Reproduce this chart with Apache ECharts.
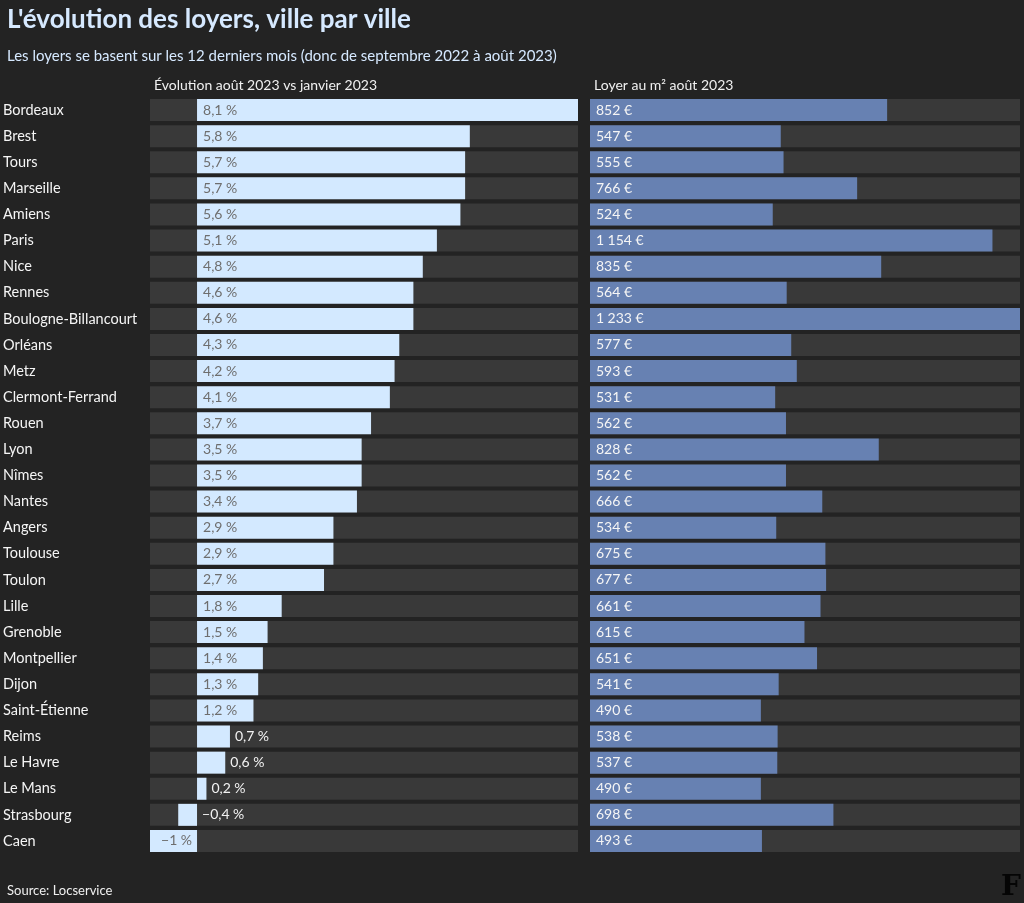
<!DOCTYPE html>
<html><head><meta charset="utf-8">
<script src="https://cdn.jsdelivr.net/npm/echarts@6/dist/echarts.min.js"></script>
<style>html,body{margin:0;padding:0;background:#232323;}#c{width:1024px;height:903px;}</style>
</head><body><div id="c"></div>
<script>
const cities = ["Bordeaux","Brest","Tours","Marseille","Amiens","Paris","Nice","Rennes","Boulogne-Billancourt","Orléans","Metz","Clermont-Ferrand","Rouen","Lyon","Nîmes","Nantes","Angers","Toulouse","Toulon","Lille","Grenoble","Montpellier","Dijon","Saint-Étienne","Reims","Le Havre","Le Mans","Strasbourg","Caen"];
const evolution = [8.1,5.8,5.7,5.7,5.6,5.1,4.8,4.6,4.6,4.3,4.2,4.1,3.7,3.5,3.5,3.4,2.9,2.9,2.7,1.8,1.5,1.4,1.3,1.2,0.7,0.6,0.2,-0.4,-1];
const loyer = [852,547,555,766,524,1154,835,564,1233,577,593,531,562,828,562,666,534,675,677,661,615,651,541,490,538,537,490,698,493];

const FONT = 'Lato';
const evoMin = Math.min(...evolution), evoMax = Math.max(...evolution);
const loyMax = Math.max(...loyer);
const fmtPct = v => (v < 0 ? '\u2212' : '') + String(Math.abs(v)).replace('.', ',') + '\u202f%';
const fmtEur = v => String(v).replace(/\B(?=(\d{3})+(?!\d))/g, '\u202f') + '\u00a0€';

const chart = echarts.init(document.getElementById('c'));
const gridTop = 97, gridHeight = 757;
const evoData = evolution.map(v => {
  let label;
  if (v >= 1) label = {position: 'insideLeft', distance: 6, color: '#6e6e6e'};
  else if (v <= -1) label = {position: 'insideRight', distance: 5, color: '#6e6e6e'};
  else label = {position: 'right', distance: 5, color: '#f2f2f2'};
  return {value: v, label: label};
});
chart.setOption({
  backgroundColor: '#232323',
  animation: false,
  title: [
    {text: "L'évolution des loyers, ville par ville", left: 2, top: 2, textStyle: {fontFamily: FONT, fontSize: 26, fontWeight: 'bold', color: '#d6e9ff'}},
    {text: "Les loyers se basent sur les 12 derniers mois (donc de septembre 2022 à août 2023)", left: 2, top: 44, textStyle: {fontFamily: FONT, fontSize: 15, fontWeight: 'normal', color: '#d6e9ff'}},
    {text: "Évolution août 2023 vs janvier 2023", left: 149, top: 73, textStyle: {fontFamily: FONT, fontSize: 14, fontWeight: 'normal', color: '#f0f0f0'}},
    {text: "Loyer au m² août 2023", left: 589, top: 73, textStyle: {fontFamily: FONT, fontSize: 14, fontWeight: 'normal', color: '#f0f0f0'}},
    {text: "Source: Locservice", left: 2, top: 879, textStyle: {fontFamily: FONT, fontSize: 13, fontWeight: 'normal', color: '#f0f0f0'}}
  ],
  graphic: [{type: 'text', right: 3, bottom: 1, style: {text: 'F', fontFamily: 'DejaVu Serif', fontWeight: 'bold', fontSize: 28, fill: '#050505'}}],
  grid: [
    {left: 150, width: 428, top: gridTop, height: gridHeight},
    {left: 590, width: 430, top: gridTop, height: gridHeight}
  ],
  xAxis: [
    {gridIndex: 0, type: 'value', min: evoMin, max: evoMax, show: false},
    {gridIndex: 1, type: 'value', min: 0, max: loyMax, show: false}
  ],
  yAxis: [
    {gridIndex: 0, type: 'category', data: cities, inverse: true, axisLine: {show: false}, axisTick: {show: false},
     axisLabel: {align: 'left', margin: 147, color: '#f5f5f5', fontFamily: FONT, fontSize: 14.5}},
    {gridIndex: 1, type: 'category', data: cities, inverse: true, show: false}
  ],
  series: [
    {type: 'bar', xAxisIndex: 0, yAxisIndex: 0, data: cities.map(() => evoMin), barWidth: 22, barGap: '-100%', itemStyle: {color: '#393939'}, silent: true},
    {type: 'bar', xAxisIndex: 0, yAxisIndex: 0, data: cities.map(() => evoMax), barWidth: 22, barGap: '-100%', itemStyle: {color: '#393939'}, silent: true},
    {type: 'bar', xAxisIndex: 0, yAxisIndex: 0, data: evoData, barWidth: 22, barGap: '-100%', itemStyle: {color: '#d3e9ff'},
     label: {show: true, fontFamily: FONT, fontSize: 14, formatter: p => fmtPct(p.value)}},
    {type: 'bar', xAxisIndex: 1, yAxisIndex: 1, data: cities.map(() => loyMax), barWidth: 22, barGap: '-100%', itemStyle: {color: '#393939'}, silent: true},
    {type: 'bar', xAxisIndex: 1, yAxisIndex: 1, data: loyer, barWidth: 22, barGap: '-100%', itemStyle: {color: '#6781b2'},
     label: {show: true, position: 'insideLeft', distance: 6, color: '#f5f5f5', fontFamily: FONT, fontSize: 14, formatter: p => fmtEur(p.value)}}
  ]
});
</script></body></html>
